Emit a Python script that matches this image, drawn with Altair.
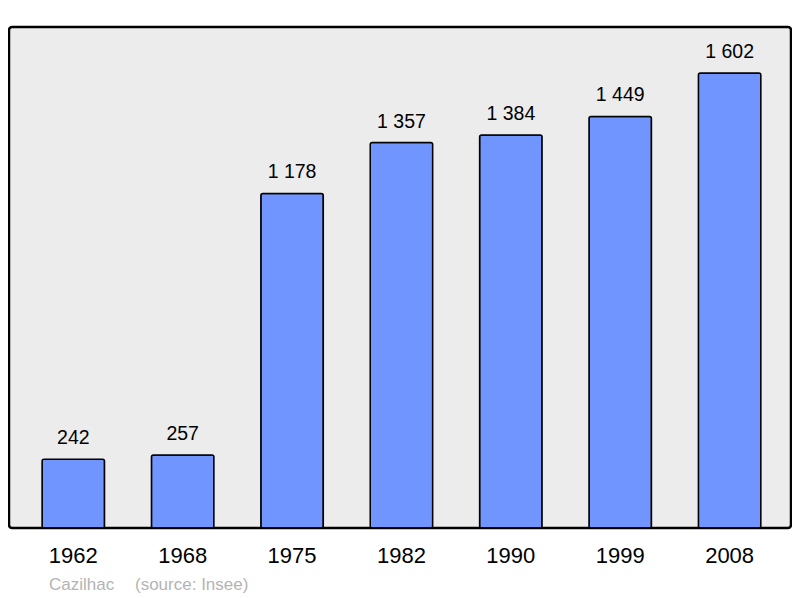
import altair as alt
import pandas as pd

years = ["1962", "1968", "1975", "1982", "1990", "1999", "2008"]
population = [242, 257, 1178, 1357, 1384, 1449, 1602]
footer_name = "Cazilhac"
footer_source = "(source: Insee)"

df = pd.DataFrame({
    "year": years,
    "pop": population,
    "label": [f"{v:,}".replace(",", " ") for v in population],
})

FONT = "Liberation Sans"

x = alt.X("year:N", sort=years, title=None,
          scale=alt.Scale(paddingInner=0.429, paddingOuter=0.289, align=0.523),
          axis=alt.Axis(labelAngle=0, labelFontSize=22, labelFont=FONT,
                        labelColor="#000000", ticks=False, domain=False,
                        labelPadding=17))
y = alt.Y("pop:Q", title=None, scale=alt.Scale(domain=[0, 1764], nice=False),
          axis=None)

bars = alt.Chart(df).mark_bar(
    color="#7095ff", stroke="#000000", strokeWidth=1.5, cornerRadius=2
).encode(x=x, y=y)

labels = alt.Chart(df).mark_text(
    baseline="alphabetic", dy=-15, fontSize=19.5, font=FONT, color="#000000"
).encode(x=x, y=y, text="label:N")

foot1 = alt.Chart(pd.DataFrame({"t": [footer_name]})).mark_text(
    align="left", baseline="alphabetic", fontSize=17, font=FONT, color="#b4b4b4"
).encode(x=alt.value(40), y=alt.value(563), text="t:N")

foot2 = alt.Chart(pd.DataFrame({"t": [footer_source]})).mark_text(
    align="left", baseline="alphabetic", fontSize=17, font=FONT, color="#b4b4b4"
).encode(x=alt.value(126), y=alt.value(563), text="t:N")

chart = alt.layer(bars, labels, foot1, foot2).properties(
    width=782, height=501,
    autosize=alt.AutoSizeParams(type="none"),
    padding={"left": 1, "top": 19, "right": 1, "bottom": 70},
    background="#ffffff",
).configure_view(
    fill="#ececec", stroke="#000000", strokeWidth=2.5, cornerRadius=3
)

chart.save("out.html", embed_options={"renderer": "svg", "actions": False})
